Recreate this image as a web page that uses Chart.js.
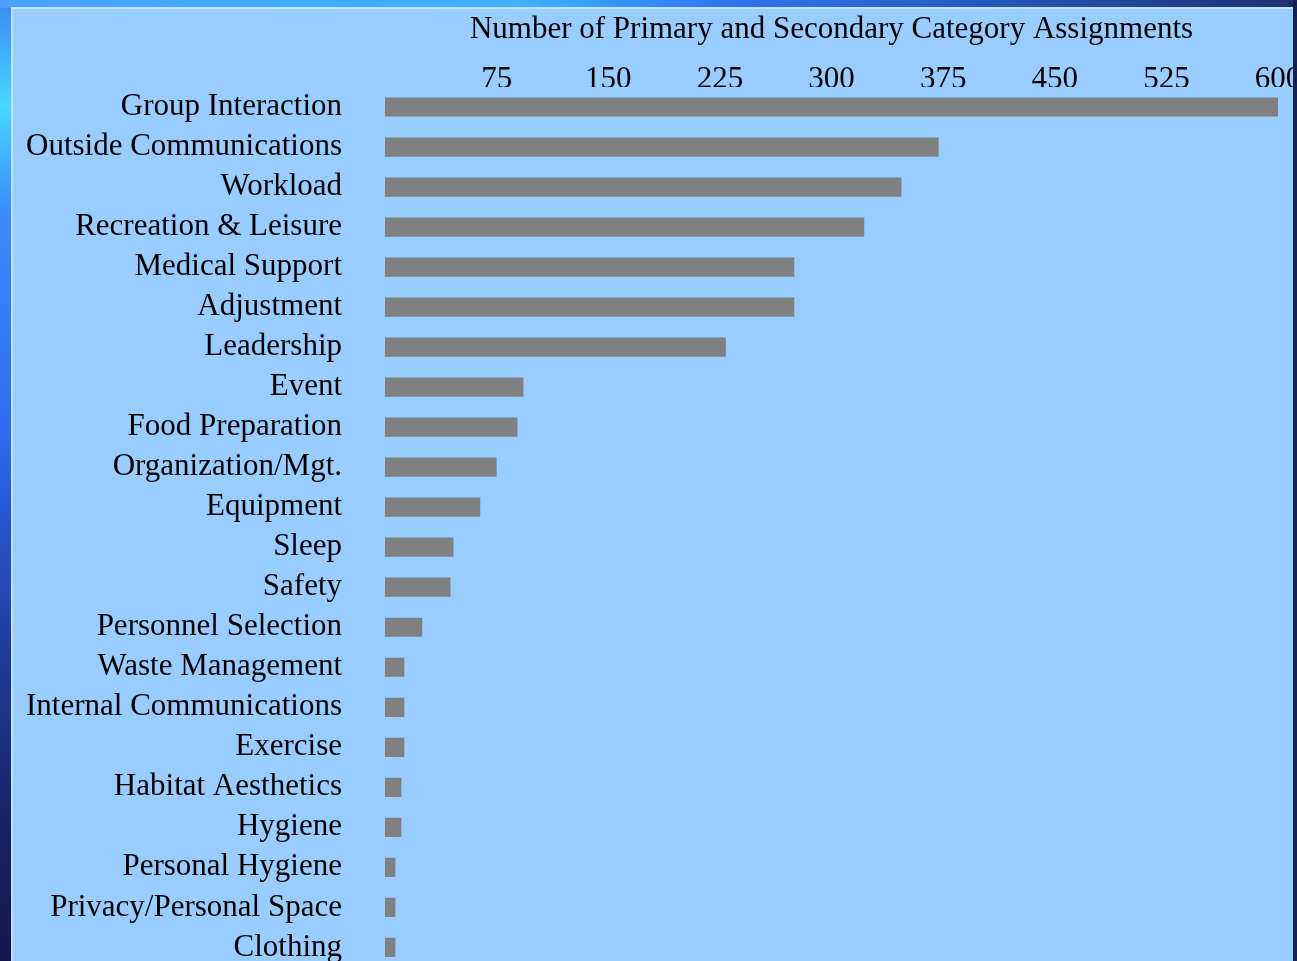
<!DOCTYPE html>
<html>
<head>
<meta charset="utf-8">
<script src="https://cdn.jsdelivr.net/npm/chart.js@4.4.1/dist/chart.umd.min.js"></script>
<style>
  html, body { margin: 0; padding: 0; overflow: hidden; }
  body {
    width: 1297px; height: 961px;
    background: linear-gradient(180deg, #3f86f2 0%, #45d8ff 11%, #3a8cf8 22%, #2f6cf0 45%, #2a5ad8 52%, #1e3c98 68%, #1a2368 85%, #15154e 100%);
    position: relative;
  }
  #topband {
    position: absolute; left: 0; top: 0; width: 1297px; height: 8px;
    background: linear-gradient(90deg, #4aa0ff 0%, #40b4ff 40%, #2f78f0 55%, #2860c8 72%, #1c2f70 100%);
  }
  #rightband {
    position: absolute; left: 1293px; top: 0; width: 4px; height: 961px;
    background: #142050;
  }
  #panel {
    position: absolute; left: 11px; top: 7px; width: 1282px; height: 1022px;
    background: #99ccff;
    border-top: 2px solid #c4e2ff; border-left: 2px solid #c4e2ff;
    box-sizing: border-box;
    overflow: hidden;
  }
  #chart { position: absolute; left: -2px; top: -2px; }
</style>
</head>
<body>
<div id="topband"></div>
<div id="rightband"></div>
<div id="panel">
  <canvas id="chart" width="1310" height="1022"></canvas>
</div>
<script>
// categories, top to bottom
const categories = [
  'Group Interaction', 'Outside Communications', 'Workload', 'Recreation & Leisure',
  'Medical Support', 'Adjustment', 'Leadership', 'Event', 'Food Preparation',
  'Organization/Mgt.', 'Equipment', 'Sleep', 'Safety', 'Personnel Selection',
  'Waste Management', 'Internal Communications', 'Exercise', 'Habitat Aesthetics',
  'Hygiene', 'Personal Hygiene', 'Privacy/Personal Space', 'Clothing'
];

// number of primary and secondary category assignments
const assignments = [600, 372, 347, 322, 275, 275, 229, 93, 89, 75, 64, 46, 44, 25, 13, 13, 13, 11, 11, 7, 7, 7];

const tickValues = [75, 150, 225, 300, 375, 450, 525, 600];
const axisTitle = 'Number of Primary and Secondary Category Assignments';

const serif = '"Liberation Serif", "Times New Roman", serif';

new Chart(document.getElementById('chart'), {
  type: 'bar',
  data: {
    labels: categories,
    datasets: [{
      data: assignments,
      backgroundColor: '#808080',
      borderWidth: 0,
      barPercentage: 0.48,
      categoryPercentage: 1
    }]
  },
  options: {
    indexAxis: 'y',
    responsive: false,
    animation: false,
    layout: { padding: { top: 0, right: 43, bottom: 0, left: 0 } },
    plugins: {
      legend: { display: false },
      tooltip: { enabled: false }
    },
    scales: {
      x: {
        position: 'top',
        min: 0,
        max: 600,
        afterBuildTicks: axis => {
          axis.ticks = tickValues.map(v => ({ value: v }));
        },
        afterFit: axis => { axis.height = 80; },
        grid: { display: false, drawTicks: false },
        border: { display: false },
        ticks: {
          color: '#000',
          font: { family: serif, size: 31 },
          padding: -11,
          maxRotation: 0,
          autoSkip: false
        },
        title: {
          display: true,
          text: axisTitle,
          color: '#000',
          font: { family: serif, size: 31 },
          padding: { top: 4, bottom: 0 }
        }
      },
      y: {
        afterFit: axis => { axis.width = 374; },
        grid: { display: false, drawTicks: false },
        border: { display: false },
        ticks: {
          color: '#000',
          font: { family: serif, size: 31 },
          padding: 43,
          autoSkip: false
        }
      }
    }
  }
});
</script>
</body>
</html>
